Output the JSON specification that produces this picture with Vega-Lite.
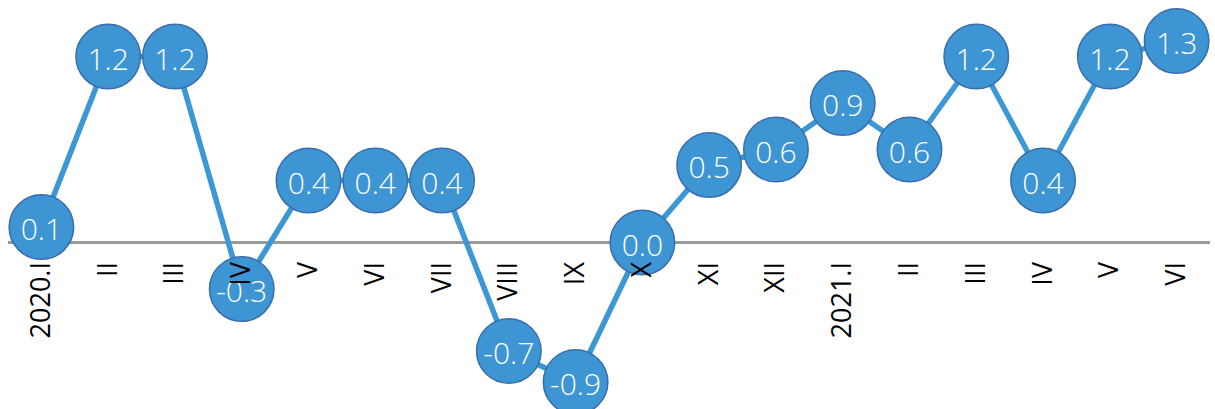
{
  "$schema": "https://vega.github.io/schema/vega-lite/v6.json",
  "autosize": "none",
  "width": 1202,
  "height": 409,
  "padding": {"left": 8, "right": 5, "top": 0, "bottom": 0},
  "background": "white",
  "config": {"view": {"stroke": null}},
  "data": {
    "values": [
      {"m": "2020.I", "v": 0.1, "t": "0.1"},
      {"m": "II", "v": 1.2, "t": "1.2"},
      {"m": "III", "v": 1.2, "t": "1.2"},
      {"m": "IV", "v": -0.3, "t": "-0.3"},
      {"m": "V", "v": 0.4, "t": "0.4"},
      {"m": "VI", "v": 0.4, "t": "0.4"},
      {"m": "VII", "v": 0.4, "t": "0.4"},
      {"m": "VIII", "v": -0.7, "t": "-0.7"},
      {"m": "IX", "v": -0.9, "t": "-0.9"},
      {"m": "X", "v": 0.0, "t": "0.0"},
      {"m": "XI", "v": 0.5, "t": "0.5"},
      {"m": "XII", "v": 0.6, "t": "0.6"},
      {"m": "2021.I", "v": 0.9, "t": "0.9"},
      {"m": "II ", "v": 0.6, "t": "0.6"},
      {"m": "III ", "v": 1.2, "t": "1.2"},
      {"m": "IV ", "v": 0.4, "t": "0.4"},
      {"m": "V ", "v": 1.2, "t": "1.2"},
      {"m": "VI ", "v": 1.3, "t": "1.3"}
    ]
  },
  "encoding": {
    "x": {
      "field": "m",
      "type": "ordinal",
      "sort": null,
      "scale": {"type": "point", "padding": 0.5},
      "axis": {
        "title": null,
        "orient": "bottom",
        "offset": -166.5,
        "domain": false,
        "ticks": false,
        "tickSize": 0,
        "labelAngle": -90,
        "labelPadding": 19,
        "labelFont": "Open Sans",
        "labelFontSize": 27,
        "labelFontWeight": 400,
        "labelColor": "#000000",
        "labelOverlap": false,
        "labelBound": false,
        "labelFlush": false,
        "zindex": 1
      }
    },
    "y": {
      "field": "v",
      "type": "quantitative",
      "scale": {"domain": [-1.074, 1.565], "zero": false, "nice": false},
      "axis": null
    }
  },
  "layer": [
    {
      "mark": {"type": "rule", "color": "#999999", "strokeWidth": 2},
      "encoding": {"y": {"datum": 0}, "x": null}
    },
    {
      "mark": {"type": "line", "color": "#3b98d5", "strokeWidth": 5.5}
    },
    {
      "mark": {"type": "circle", "size": 4160, "opacity": 1, "color": "#3d95d3", "stroke": "#3a6dae", "strokeWidth": 1.5}
    },
    {
      "mark": {"type": "text", "color": "white", "font": "Open Sans", "fontSize": 30, "fontWeight": 300, "baseline": "alphabetic", "dy": 13},
      "encoding": {"text": {"field": "t"}}
    }
  ]
}
